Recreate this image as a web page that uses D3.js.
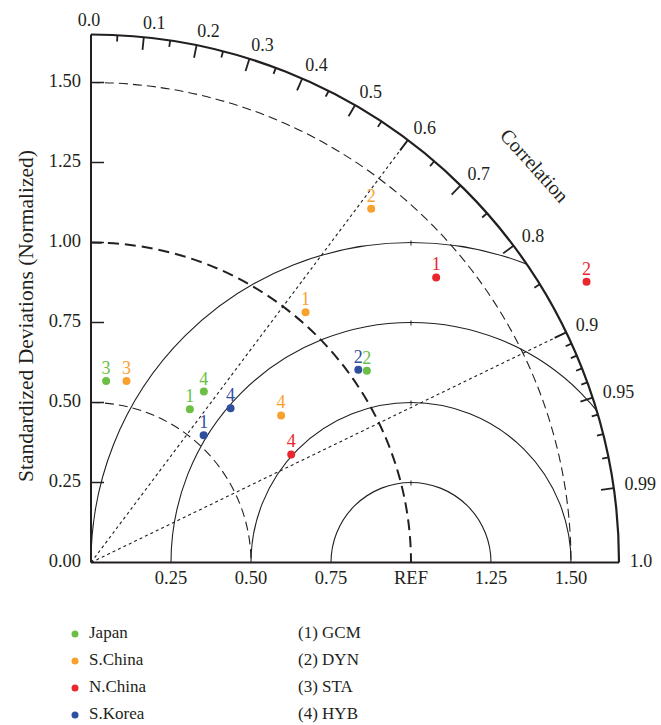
<!DOCTYPE html>
<html>
<head>
<meta charset="utf-8">
<script src="https://cdn.jsdelivr.net/npm/d3@7"></script>
<style>
  body { margin: 0; background: #fff; }
  text { font-family: "Liberation Serif", "DejaVu Serif", serif; fill: #231f20; }
</style>
</head>
<body>
<div id="wrapper"></div>
<script>
// data: normalized std dev and correlation, one value per method (1..4)
const regions = ["Japan", "S.China", "N.China", "S.Korea"];
const regionColors = ["#6cbf45", "#f8a12f", "#e8282d", "#2f4f9f"];
const methodLabels = ["(1) GCM", "(2) DYN", "(3) STA", "(4) HYB"];

const japanStd = [0.570, 1.050, 0.569, 0.640];
const japanCorr = [0.542, 0.821, 0.083, 0.551];
const sChinaStd = [1.030, 1.410, 0.578, 0.751];
const sChinaCorr = [0.651, 0.621, 0.192, 0.791];
const nChinaStd = [1.399, 1.780, null, 0.711];
const nChinaCorr = [0.771, 0.870, null, 0.880];
const sKoreaStd = [0.531, 1.030, null, 0.650];
const sKoreaCorr = [0.663, 0.811, null, 0.671];

const stdTicks = [0, 0.25, 0.5, 0.75, 1.0, 1.25, 1.5];
const xTickLabels = ["0.25", "0.50", "0.75", "REF", "1.25", "1.50"];
const corrMajor = [0, 0.1, 0.2, 0.3, 0.4, 0.5, 0.6, 0.7, 0.8, 0.9, 0.95, 0.99, 1.0];
const corrMinor = [0.05, 0.15, 0.25, 0.35, 0.45, 0.55, 0.65, 0.75, 0.85, 0.91, 0.92, 0.93, 0.94, 0.96, 0.97, 0.98];
const rmsCircles = [0.25, 0.5, 0.75, 1.0];
const stdCircles = [0.5, 1.0, 1.5];
const corrLines = [0.6, 0.9];
const stdMax = 1.65;

const series = [
  {std: japanStd, corr: japanCorr},
  {std: sChinaStd, corr: sChinaCorr},
  {std: nChinaStd, corr: nChinaCorr},
  {std: sKoreaStd, corr: sKoreaCorr}
];

const dimensions = {width: 661, height: 725, originX: 91, originY: 562.5};
const ink = "#231f20";

const svg = d3.select("#wrapper").append("svg")
  .attr("width", dimensions.width)
  .attr("height", dimensions.height);

const r = d3.scaleLinear().domain([0, stdMax]).range([0, 528]);
const px = (s, c) => dimensions.originX + r(s * c);
const py = (s, c) => dimensions.originY - r(s * Math.sqrt(Math.max(0, 1 - c * c)));

// arc drawn clockwise on screen from a0 to a1 (svg angles, 0 = +x)
const arcPath = (cx, cy, rad, a0, a1) => {
  const p = d3.path();
  p.moveTo(cx + rad * Math.cos(a0), cy + rad * Math.sin(a0));
  p.arc(cx, cy, rad, a0, a1, false);
  return p.toString();
};

const bounds = svg.append("g");

// clip for the RMS arcs (quarter disk)
svg.append("clipPath").attr("id", "quarter")
  .append("path")
  .attr("d", d3.arc()({innerRadius: 0, outerRadius: r(stdMax), startAngle: 0, endAngle: Math.PI / 2}))
  .attr("transform", `translate(${dimensions.originX},${dimensions.originY})`);

// RMS circles around REF
const refX = dimensions.originX + r(1);
const rmsG = bounds.append("g").attr("clip-path", "url(#quarter)");
rmsG.selectAll("path").data(rmsCircles).join("path")
  .attr("d", d => arcPath(refX, dimensions.originY, r(d), Math.PI, 2 * Math.PI))
  .attr("fill", "none").attr("stroke", ink).attr("stroke-width", 1.1);
bounds.selectAll(".rmsTick").data(rmsCircles).join("line")
  .attr("x1", refX).attr("x2", refX)
  .attr("y1", d => dimensions.originY - r(d) - 2)
  .attr("y2", d => dimensions.originY - r(d) + 3)
  .attr("stroke", ink).attr("stroke-width", 1);

// std dev arcs around origin
bounds.selectAll(".stdArc").data(stdCircles).join("path")
  .attr("d", d => arcPath(dimensions.originX, dimensions.originY, r(d), -Math.PI / 2, 0))
  .attr("fill", "none").attr("stroke", ink)
  .attr("stroke-width", d => d === 1 ? 2 : 1.1)
  .attr("stroke-dasharray", d => d === 1 ? "11,6" : "9,5");

// dotted correlation lines
bounds.selectAll(".corrLine").data(corrLines).join("line")
  .attr("x1", dimensions.originX).attr("y1", dimensions.originY)
  .attr("x2", d => px(stdMax, d)).attr("y2", d => py(stdMax, d))
  .attr("stroke", ink).attr("stroke-width", 1.1).attr("stroke-dasharray", "3,3");

// axes
bounds.append("line")
  .attr("x1", dimensions.originX).attr("x2", dimensions.originX)
  .attr("y1", dimensions.originY).attr("y2", dimensions.originY - r(stdMax))
  .attr("stroke", ink).attr("stroke-width", 2);
bounds.append("line")
  .attr("x1", dimensions.originX).attr("x2", dimensions.originX + r(stdMax))
  .attr("y1", dimensions.originY).attr("y2", dimensions.originY)
  .attr("stroke", ink).attr("stroke-width", 2);

// outer correlation arc
bounds.append("path")
  .attr("d", arcPath(dimensions.originX, dimensions.originY, r(stdMax), -Math.PI / 2, 0))
  .attr("fill", "none").attr("stroke", ink).attr("stroke-width", 2.2);

// correlation ticks
const tickLine = (sel, len) => sel
  .attr("x1", d => px(stdMax, d)).attr("y1", d => py(stdMax, d))
  .attr("x2", d => px(stdMax - len, d)).attr("y2", d => py(stdMax - len, d))
  .attr("stroke", ink).attr("stroke-width", 1.8);
bounds.selectAll(".corrMajor").data(corrMajor.filter(c => c > 0 && c < 1)).join("line").call(tickLine, 0.04);
bounds.selectAll(".corrMinor").data(corrMinor).join("line").call(tickLine, 0.02);

bounds.selectAll(".corrLabel").data(corrMajor).join("text")
  .attr("x", d => px(1.69, d) - 2)
  .attr("y", d => py(1.69, d))
  .attr("text-anchor", d => d === 0 ? "middle" : "start")
  .attr("dominant-baseline", "middle")
  .attr("font-size", 18)
  .text(d => d === 0 ? "0.0" : d === 1 ? "1.0" : String(d));

bounds.append("text")
  .attr("transform", "translate(533,167) rotate(48)")
  .attr("text-anchor", "middle").attr("dominant-baseline", "middle")
  .attr("font-size", 20)
  .text("Correlation");

// y axis ticks and labels
bounds.selectAll(".yTick").data(stdTicks.filter(d => d > 0)).join("line")
  .attr("x1", dimensions.originX).attr("x2", dimensions.originX + 13)
  .attr("y1", d => dimensions.originY - r(d)).attr("y2", d => dimensions.originY - r(d))
  .attr("stroke", ink).attr("stroke-width", 1.5);
bounds.selectAll(".yLabel").data(stdTicks).join("text")
  .attr("x", 81).attr("y", d => dimensions.originY - r(d))
  .attr("text-anchor", "end").attr("dominant-baseline", "middle")
  .attr("font-size", 18.5)
  .text(d => d3.format(".2f")(d));

bounds.selectAll(".xLabel").data(stdTicks.slice(1)).join("text")
  .attr("x", d => dimensions.originX + r(d)).attr("y", 580)
  .attr("text-anchor", "middle").attr("dominant-baseline", "middle")
  .attr("font-size", 18.5)
  .text((d, i) => xTickLabels[i]);

bounds.append("text")
  .attr("transform", "translate(28,316) rotate(-90)")
  .attr("text-anchor", "middle").attr("dominant-baseline", "middle")
  .attr("font-size", 21.5)
  .text("Standardized Deviations (Normalized)");

// points
series.forEach((s, si) => {
  const pts = s.std.map((v, i) => ({std: v, corr: s.corr[i], n: i + 1})).filter(d => d.std !== null);
  const g = bounds.append("g");
  g.selectAll("circle").data(pts).join("circle")
    .attr("cx", d => px(d.std, d.corr)).attr("cy", d => py(d.std, d.corr))
    .attr("r", 4).attr("fill", regionColors[si]);
  g.selectAll("text").data(pts).join("text")
    .attr("x", d => px(d.std, d.corr)).attr("y", d => py(d.std, d.corr) - 7)
    .attr("text-anchor", "middle").attr("font-size", 18)
    .style("fill", regionColors[si])
    .text(d => d.n);
});

// legend
const legendY = d3.scalePoint().domain(d3.range(4)).range([634, 715]);
const legend = svg.append("g");
legend.selectAll("circle").data(regions).join("circle")
  .attr("cx", 75).attr("cy", (d, i) => legendY(i)).attr("r", 3.5)
  .attr("fill", (d, i) => regionColors[i]);
legend.selectAll(".reg").data(regions).join("text")
  .attr("x", 89).attr("y", (d, i) => legendY(i))
  .attr("dominant-baseline", "middle").attr("font-size", 17)
  .text(d => d);
legend.selectAll(".meth").data(methodLabels).join("text")
  .attr("x", 298).attr("y", (d, i) => legendY(i))
  .attr("dominant-baseline", "middle").attr("font-size", 17)
  .text(d => d);
</script>
</body>
</html>
